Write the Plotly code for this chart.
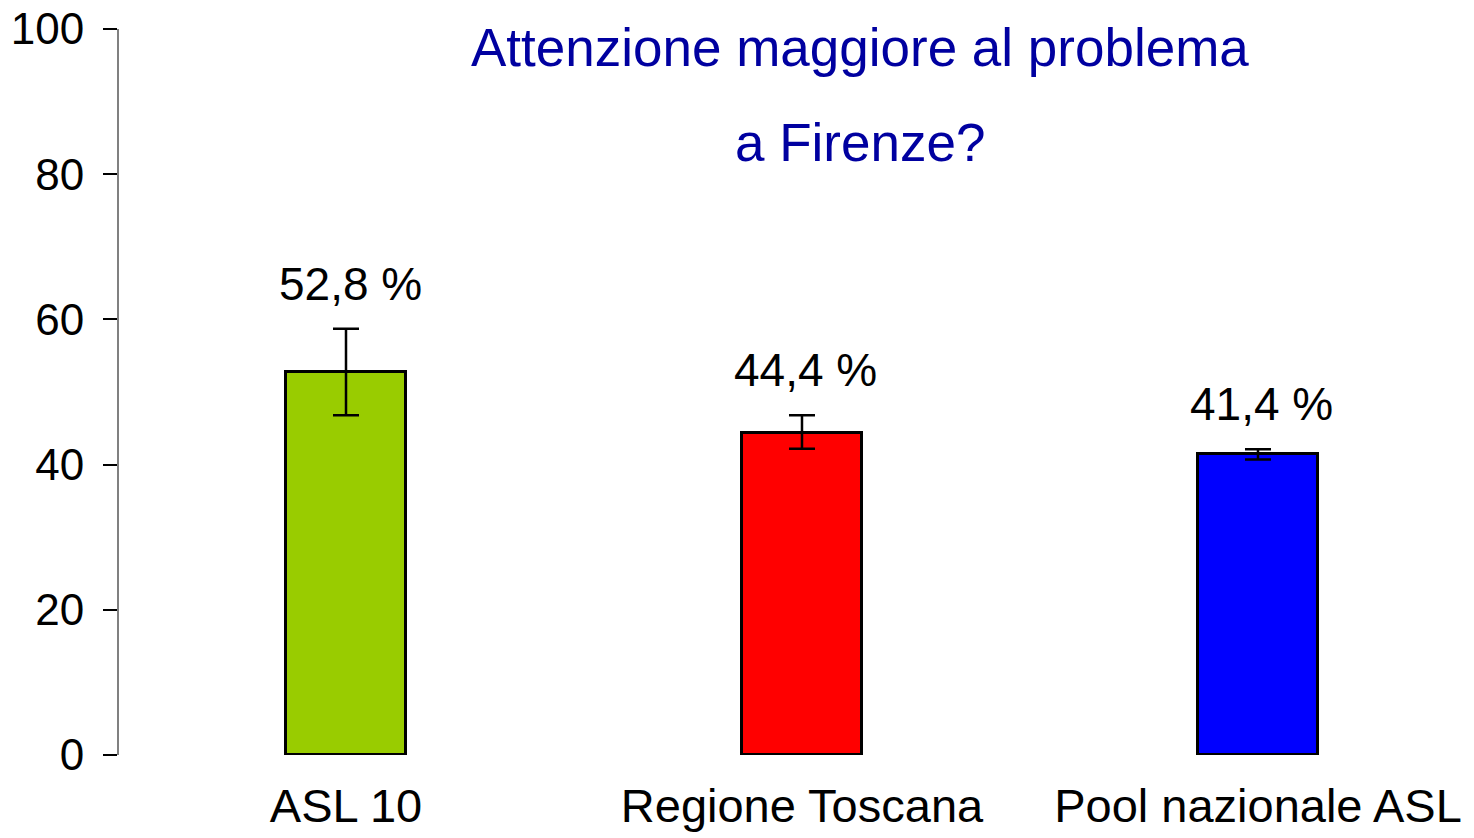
import plotly.graph_objects as go

categories = ["ASL 10", "Regione Toscana", "Pool nazionale ASL"]
values = [52.8, 44.4, 41.4]
err_plus = [5.9, 2.4, 0.7]
err_minus = [6.0, 2.2, 0.7]
value_labels = ["52,8 %", "44,4 %", "41,4 %"]
bar_colors = ["#99CC00", "#FF0000", "#0000FF"]
y_tickvals = [0, 20, 40, 60, 80, 100]
title_lines = ["Attenzione maggiore al problema", "a Firenze?"]

FONT = "Liberation Sans, Arial, sans-serif"

fig = go.Figure()
fig.add_trace(go.Bar(
    x=categories,
    y=values,
    width=0.265,
    marker=dict(color=bar_colors, line=dict(color="black", width=3)),
    error_y=dict(type="data", symmetric=False, array=err_plus, arrayminus=err_minus,
                 color="black", thickness=2.5, width=13),
    showlegend=False,
    hoverinfo="skip",
))

annotations = []
for c, v, e, t in zip(categories, values, err_plus, value_labels):
    annotations.append(dict(x=c, y=v + e, xref="x", yref="y", text=t, showarrow=False,
                            yshift=45, xshift=4,
                            font=dict(family=FONT, size=46, color="black")))

annotations.append(dict(x=0.547, y=0.974, xref="paper", yref="paper", text=title_lines[0],
                        showarrow=False, xanchor="center", yanchor="middle",
                        font=dict(family=FONT, size=53, color="#0000A0")))
annotations.append(dict(x=0.547, y=0.843, xref="paper", yref="paper", text=title_lines[1],
                        showarrow=False, xanchor="center", yanchor="middle",
                        font=dict(family=FONT, size=53, color="#0000A0")))

fig.update_layout(
    width=1474, height=838,
    margin=dict(l=119, r=0, t=29, b=83, autoexpand=False),
    paper_bgcolor="white", plot_bgcolor="white",
    annotations=annotations,
    bargap=0,
)
fig.update_xaxes(
    type="category",
    range=[-0.4978, 2.4737],
    showline=False, showgrid=False, zeroline=False, ticks="",
    tickfont=dict(family=FONT, size=47, color="black"),
    ticklabelstandoff=19,
    automargin=False,
)
fig.update_yaxes(
    range=[0, 100],
    tickvals=y_tickvals,
    showline=True, linecolor="#808080", linewidth=2,
    showgrid=False, zeroline=False,
    ticks="outside", ticklen=14, tickcolor="black", tickwidth=1.5,
    tickfont=dict(family=FONT, size=44, color="black"),
    ticklabelstandoff=10,
    ticklabeloverflow="allow",
    automargin=False,
)

fig.write_html(
    "out.html",
    config={"displayModeBar": False},
    post_script="document.body.style.margin='0';document.body.style.overflow='hidden';",
)
